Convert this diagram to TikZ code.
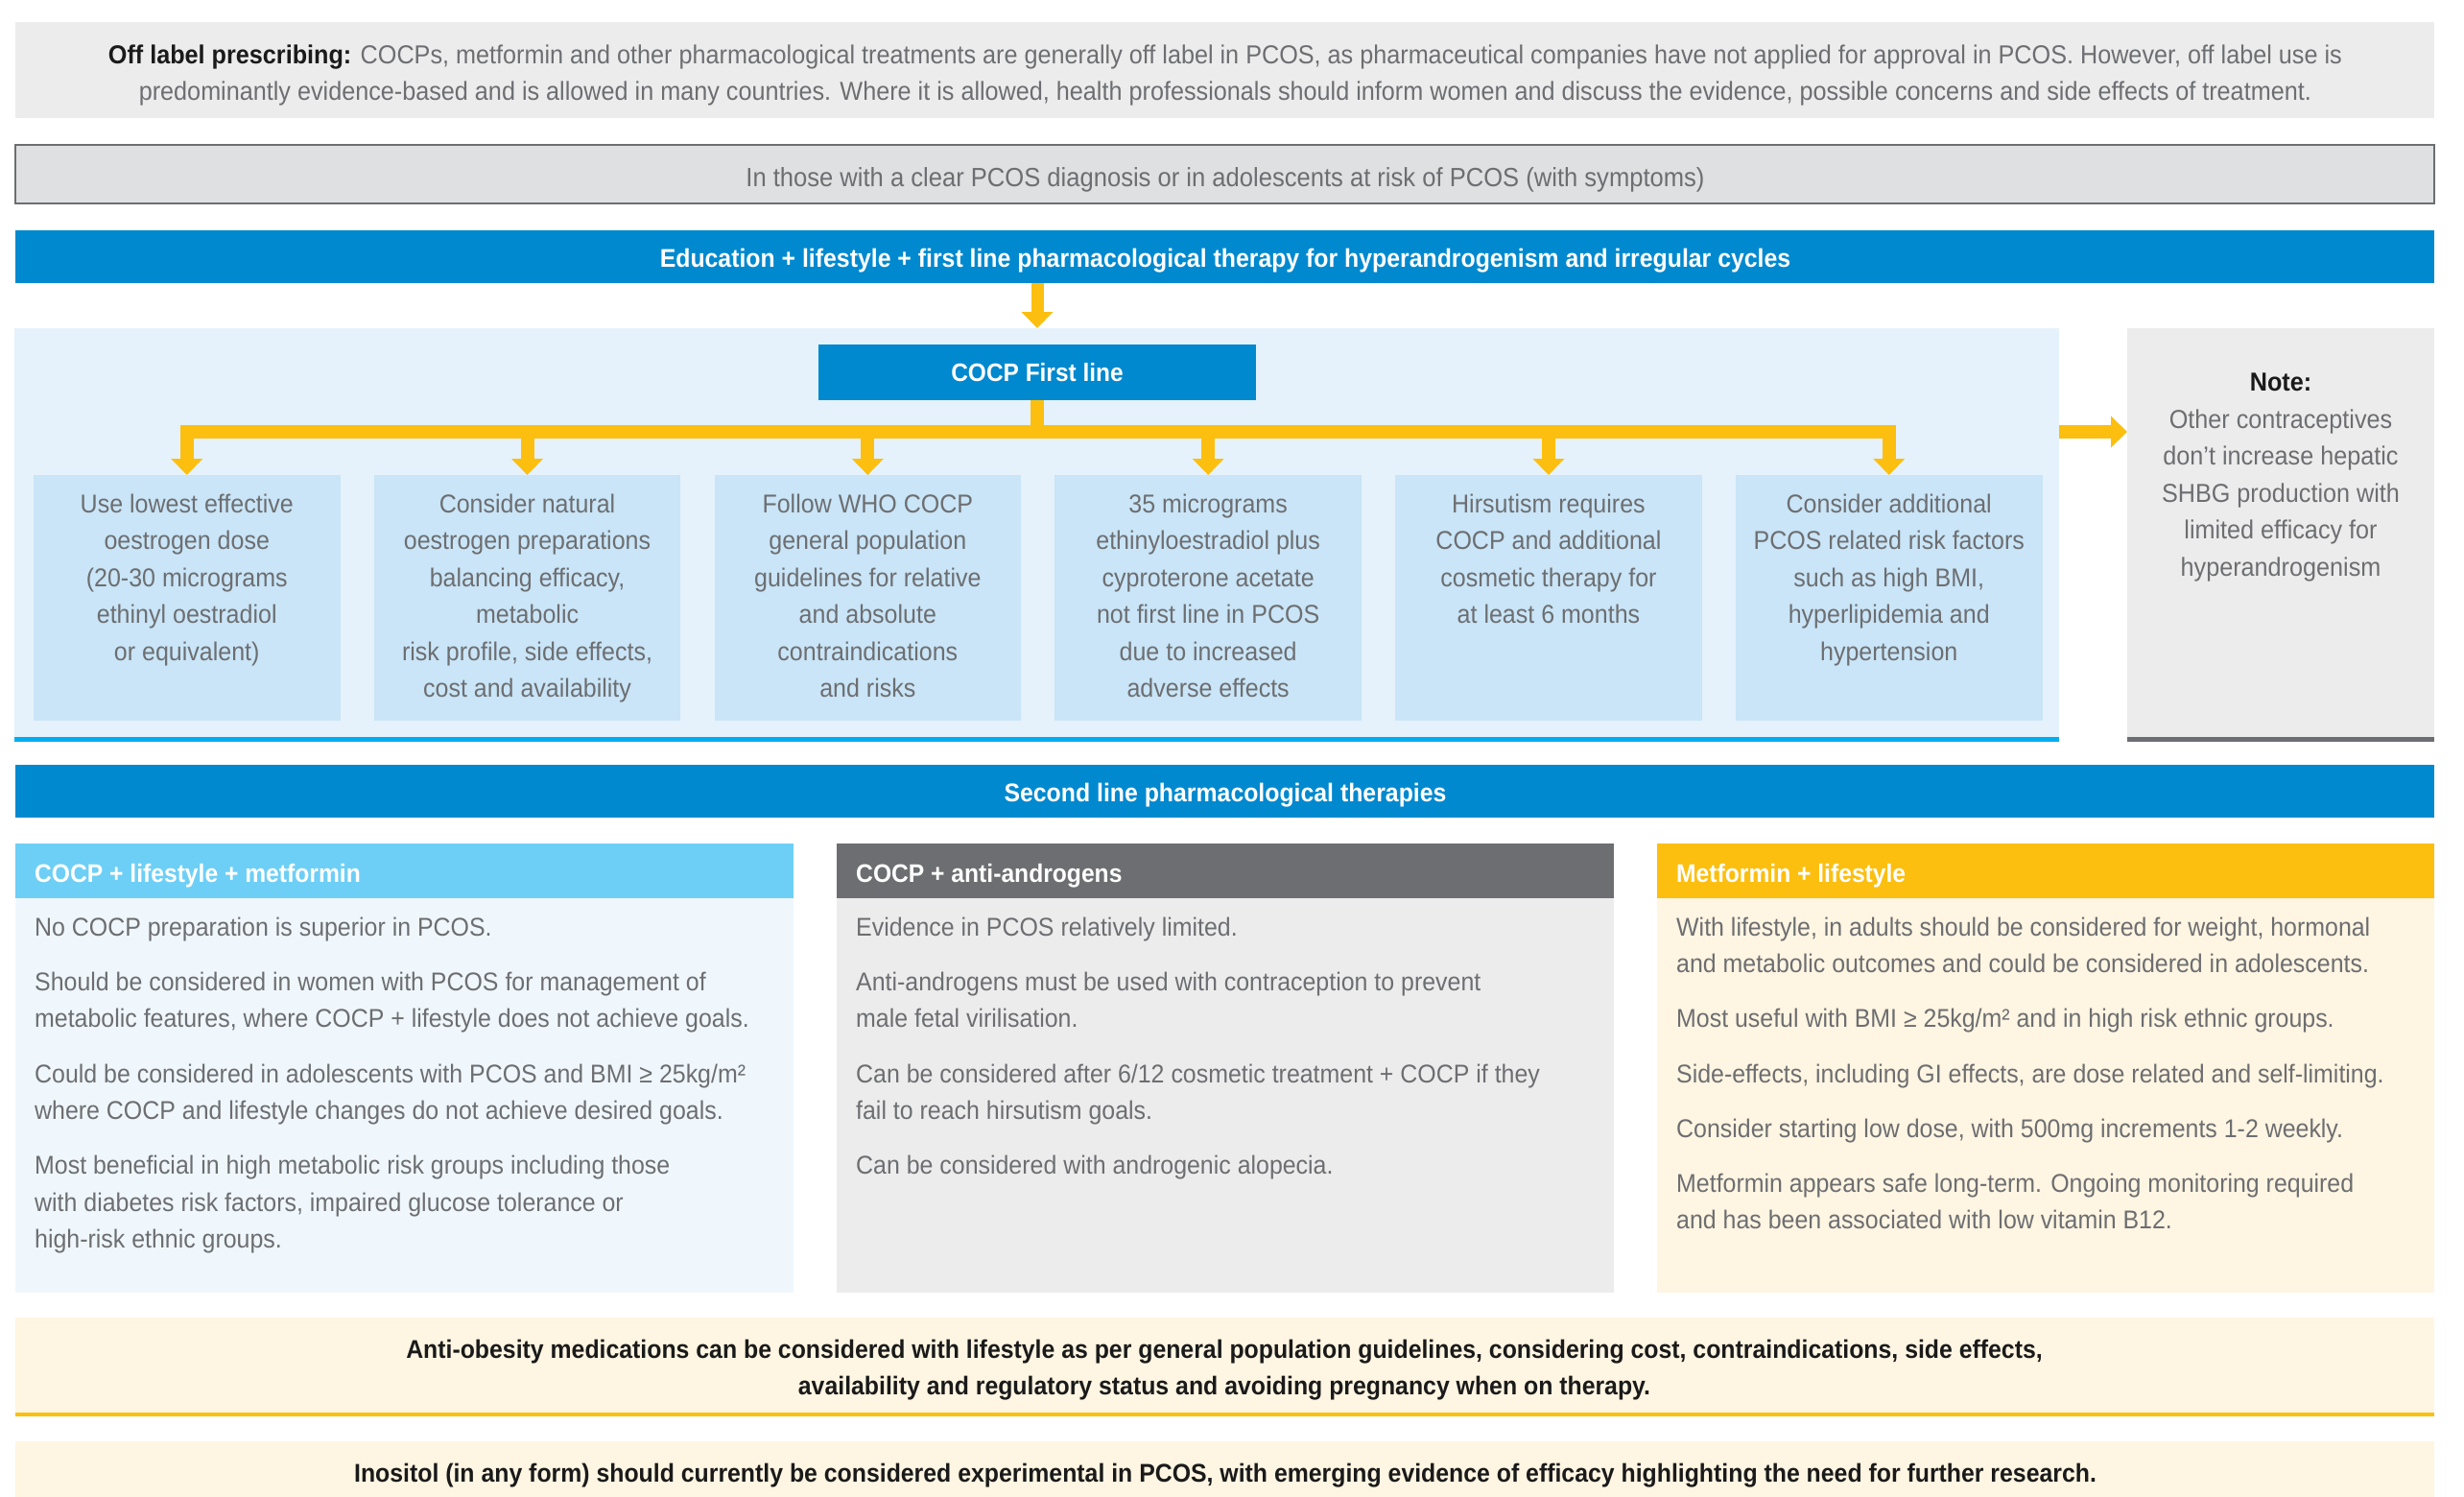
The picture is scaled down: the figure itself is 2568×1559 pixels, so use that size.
\documentclass[tikz,border=0pt]{standalone}
\usepackage{fontspec}
\setmainfont{Liberation Sans}[FakeStretch=0.93]
\usetikzlibrary{arrows.meta}

\definecolor{bodygray}{HTML}{6D6E71}
\definecolor{paleGray}{HTML}{ECECEC}
\definecolor{popFill}{HTML}{DFE0E2}
\definecolor{mainBlue}{HTML}{0089CF}
\definecolor{arrowYellow}{HTML}{FCBF10}
\definecolor{panelBlue}{HTML}{E5F2FB}
\definecolor{subBlue}{HTML}{C9E5F7}
\definecolor{lineCyan}{HTML}{00AEEF}
\definecolor{headCyan}{HTML}{6DCFF6}
\definecolor{bodyCyan}{HTML}{EFF7FD}
\definecolor{bodyCream}{HTML}{FEF5E2}
\definecolor{inkBlack}{HTML}{1A1A1A}

\tikzset{
  panelbox/.style={anchor=north west, inner sep=0pt, outer sep=0pt},
  stem/.style={draw=arrowYellow, line width=14pt},
  yarrow/.style={stem, -{Triangle[width=32pt,length=17pt]}},
  subtext/.style={anchor=north, inner sep=0pt, align=center, text=bodygray,
    font=\fontsize{26.9}{38.5}\selectfont},
  coltext/.style={anchor=north west, inner sep=0pt, align=left, text=bodygray,
    font=\fontsize{26.8}{38.5}\selectfont},
  headtext/.style={anchor=base west, inner sep=0pt, text=white,
    font=\bfseries\fontsize{26.5}{30}\selectfont},
  bartext/.style={inner sep=0pt, text=white, font=\bfseries\fontsize{26.7}{32}\selectfont},
}

\begin{document}
\begin{tikzpicture}[x=1pt, y=-1pt]
\useasboundingbox (0,0) rectangle (2568,1559);

% --- off label prescribing note
\node[panelbox, fill=paleGray, minimum width=2521pt, minimum height=100pt] (offbox) at (16,23) {};
\node[inner sep=0pt, align=center, text=bodygray, font=\fontsize{27.1}{38.5}\selectfont, anchor=north]
  (offtext) at (1277,46.5) {\textcolor{inkBlack}{\bfseries Off label prescribing:} COCPs, metformin and other pharmacological treatments are generally off label in PCOS, as pharmaceutical companies have not applied for approval in PCOS. However, off label use is\\
  predominantly evidence-based and is allowed in many countries. Where it is allowed, health professionals should inform women and discuss the evidence, possible concerns and side effects of treatment.};

% --- population
\node[panelbox, fill=popFill, draw=bodygray, line width=2pt, minimum width=2521pt, minimum height=61pt] (popbox) at (16,151) {};
\node[inner sep=0pt, text=bodygray, font=\fontsize{27.5}{32}\selectfont, anchor=base] (poptext) at (1277,194)
  {In those with a clear PCOS diagnosis or in adolescents at risk of PCOS (with symptoms)};

% --- first line header bar
\node[panelbox, fill=mainBlue, minimum width=2521pt, minimum height=55pt] (edu) at (16,240) {};
\node[bartext, anchor=base] (edutext) at (1277,278)
  {Education + lifestyle + first line pharmacological therapy for hyperandrogenism and irregular cycles};

% --- first line panel
\node[panelbox, fill=panelBlue, minimum width=2131pt, minimum height=431pt] (panel) at (15,342) {};
\fill[lineCyan] (panel.south west) rectangle ([yshift=5pt]panel.south east);

\node[panelbox, fill=mainBlue, minimum width=456pt, minimum height=58pt] (cocp) at (853,359) {};
\node[bartext, font=\bfseries\fontsize{26.3}{32}\selectfont, anchor=base] (cocptext) at (1081,397) {COCP First line};

% six recommendation boxes
\foreach \i/\x in {1/35,2/389.8,3/744.6,4/1099.4,5/1454.2,6/1809}{
  \node[panelbox, fill=subBlue, minimum width=319.5pt, minimum height=256pt] (b\i) at (\x,495) {};
}
\node[subtext] (t1) at ([yshift=-19.5pt]b1.north) {Use lowest effective\\ oestrogen dose\\ (20-30 micrograms\\ ethinyl oestradiol\\ or equivalent)};
\node[subtext] (t2) at ([yshift=-19.5pt]b2.north) {Consider natural\\ oestrogen preparations\\ balancing efficacy,\\ metabolic\\ risk profile, side effects,\\ cost and availability};
\node[subtext] (t3) at ([yshift=-19.5pt]b3.north) {Follow WHO COCP\\ general population\\ guidelines for relative\\ and absolute\\ contraindications\\ and risks};
\node[subtext] (t4) at ([yshift=-19.5pt]b4.north) {35 micrograms\\ ethinyloestradiol plus\\ cyproterone acetate\\ not first line in PCOS\\ due to increased\\ adverse effects};
\node[subtext] (t5) at ([yshift=-19.5pt]b5.north) {Hirsutism requires\\ COCP and additional\\ cosmetic therapy for\\ at least 6 months};
\node[subtext] (t6) at ([yshift=-19.5pt]b6.north) {Consider additional\\ PCOS related risk factors\\ such as high BMI,\\ hyperlipidemia and\\ hypertension};

% note box
\node[panelbox, fill=paleGray, minimum width=320pt, minimum height=431pt] (note) at (2217,342) {};
\fill[bodygray] (note.south west) rectangle ([yshift=5pt]note.south east);
\node[subtext, font=\fontsize{27.1}{38.5}\selectfont] (notetext) at ([yshift=-47pt]note.north)
  {{\color{inkBlack}\bfseries Note:}\\ Other contraceptives\\ don’t increase hepatic\\ SHBG production with\\ limited efficacy for\\ hyperandrogenism};

% yellow connectors
\coordinate (bus) at (0,450);
\draw[yarrow, line width=13pt] (edu.south -| cocp.center) -- (panel.north -| cocp.center);
\draw[stem] (cocp.south) -- (cocp.south |- bus);
\draw[stem, line cap=rect] (b1.north |- bus) -- (b6.north |- bus);
\foreach \i in {1,...,6}{
  \draw[yarrow] (b\i.north |- bus) -- (b\i.north);
}
\draw[yarrow] (panel.east |- bus) -- (note.west |- bus);

% --- second line header bar
\node[panelbox, fill=mainBlue, minimum width=2521pt, minimum height=55pt] (second) at (16,797) {};
\node[bartext, anchor=base] (secondtext) at (1277,835) {Second line pharmacological therapies};

% three option columns
\node[panelbox, fill=headCyan, minimum width=811pt, minimum height=57pt] (h1) at (16,879) {};
\node[panelbox, fill=bodyCyan, minimum width=811pt, minimum height=411pt] (c1) at (16,936) {};
\node[panelbox, fill=bodygray, minimum width=810pt, minimum height=57pt] (h2) at (872,879) {};
\node[panelbox, fill=paleGray, minimum width=810pt, minimum height=411pt] (c2) at (872,936) {};
\node[panelbox, fill=arrowYellow, minimum width=810pt, minimum height=57pt] (h3) at (1727,879) {};
\node[panelbox, fill=bodyCream, minimum width=810pt, minimum height=411pt] (c3) at (1727,936) {};

\node[headtext] (h1text) at (36,919) {COCP + lifestyle + metformin};
\node[headtext] (h2text) at (892,919) {COCP + anti-androgens};
\node[headtext] (h3text) at (1747,919) {Metformin + lifestyle};

\node[coltext] (c1text) at (36,955.5) {No COCP preparation is superior in PCOS.\\[18.7pt]
Should be considered in women with PCOS for management of\\ metabolic features, where COCP + lifestyle does not achieve goals.\\[18.7pt]
Could be considered in adolescents with PCOS and BMI ≥ 25kg/m²\\ where COCP and lifestyle changes do not achieve desired goals.\\[18.7pt]
Most beneficial in high metabolic risk groups including those\\ with diabetes risk factors, impaired glucose tolerance or\\ high-risk ethnic groups.};

\node[coltext] (c2text) at (892,955.5) {Evidence in PCOS relatively limited.\\[18.7pt]
Anti-androgens must be used with contraception to prevent\\ male fetal virilisation.\\[18.7pt]
Can be considered after 6/12 cosmetic treatment + COCP if they\\ fail to reach hirsutism goals.\\[18.7pt]
Can be considered with androgenic alopecia.};

\node[coltext] (c3text) at (1747,955.5) {With lifestyle, in adults should be considered for weight, hormonal\\ and metabolic outcomes and could be considered in adolescents.\\[18.7pt]
Most useful with BMI ≥ 25kg/m² and in high risk ethnic groups.\\[18.7pt]
Side-effects, including GI effects, are dose related and self-limiting.\\[18.7pt]
Consider starting low dose, with 500mg increments 1-2 weekly.\\[18.7pt]
Metformin appears safe long-term. Ongoing monitoring required\\ and has been associated with low vitamin B12.};

% --- bottom statements
\node[panelbox, fill=bodyCream, minimum width=2521pt, minimum height=103pt] (obesity) at (16,1373) {};
\fill[arrowYellow] (obesity.south west) rectangle ([yshift=4pt]obesity.south east);
\node[inner sep=0pt, align=center, text=inkBlack, font=\bfseries\fontsize{26.7}{38}\selectfont, anchor=north] (obesitytext) at (1276,1395.5)
  {Anti-obesity medications can be considered with lifestyle as per general population guidelines, considering cost, contraindications, side effects,\\
  availability and regulatory status and avoiding pregnancy when on therapy.};

\node[panelbox, fill=bodyCream, minimum width=2521pt, minimum height=80pt] (inositol) at (16,1502) {};
\node[inner sep=0pt, text=inkBlack, font=\bfseries\fontsize{26.7}{30}\selectfont, anchor=base] (inositoltext) at (1277,1544)
  {Inositol (in any form) should currently be considered experimental in PCOS, with emerging evidence of efficacy highlighting the need for further research.};
\end{tikzpicture}
\end{document}
